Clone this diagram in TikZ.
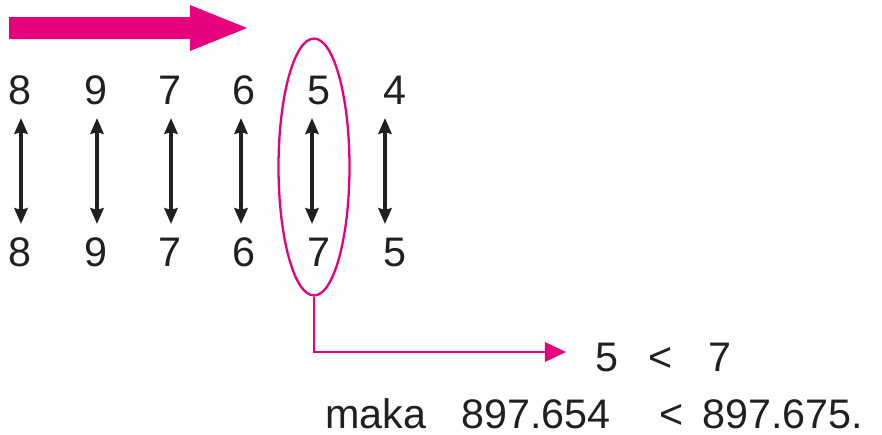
\documentclass[tikz,border=0pt]{standalone}
\usepackage{fontspec}
\setmainfont{Liberation Sans}
\usetikzlibrary{shapes.geometric,arrows.meta}
\definecolor{pinkm}{RGB}{230,0,126}
\definecolor{darkg}{RGB}{35,31,32}
\begin{document}
\begin{tikzpicture}[x=0.02cm,y=-0.02cm,
  dig/.style={inner sep=0pt,anchor=base,font=\fontsize{23.5}{26}\selectfont,text=darkg},
  txt/.style={inner sep=0pt,anchor=base west,font=\fontsize{23.5}{26}\selectfont,text=darkg},
  darrow/.style={line width=2pt,draw=darkg,{Stealth[length=9pt,width=7.5pt,inset=1pt]}-{Stealth[length=9pt,width=7.5pt,inset=1pt]}},
  pinkline/.style={line width=1.3pt,draw=pinkm}]
\useasboundingbox (0,0) rectangle (882,434);
% big arrow
\fill[pinkm] (9,17) -- (190,17) -- (190,5) -- (247,28) -- (190,51) -- (190,39) -- (9,39) -- cycle;
% digits
\foreach \n/\x/\t/\b/\ax in {1/20/8/8/21, 2/96/9/9/97, 3/170/7/7/171, 4/244/6/6/241, 5/319/5/7/312, 6/395/4/5/385}{
  \node[dig] (t\n) at (\x,104) {\t};
  \node[dig] (b\n) at (\x,266) {\b};
  \coordinate (u\n) at (\ax,118);
  \coordinate (d\n) at (\ax,224);
  \draw[darrow] (u\n) -- (d\n);
}
% ellipse
\node[ellipse,pinkline,draw,minimum width=1.42cm,minimum height=5.14cm,inner sep=0pt] (ell) at (314,167) {};
\coordinate (tip) at (566,352);
\draw[pinkline,-{Triangle[length=12pt,width=11pt]}] (ell.south) |- (tip);
% result texts
\node[txt] (r1) at (595,371) {5};
\node[txt] (r2) at (648,371) {<};
\node[txt] (r3) at (708,371) {7};
\node[txt] (m1) at (325,428) {maka};
\node[txt] (m2) at (461,428) {897.654};
\node[txt] (m3) at (659,428) {<};
\node[txt] (m4) at (702,428) {897.675.};
\end{tikzpicture}
\end{document}
